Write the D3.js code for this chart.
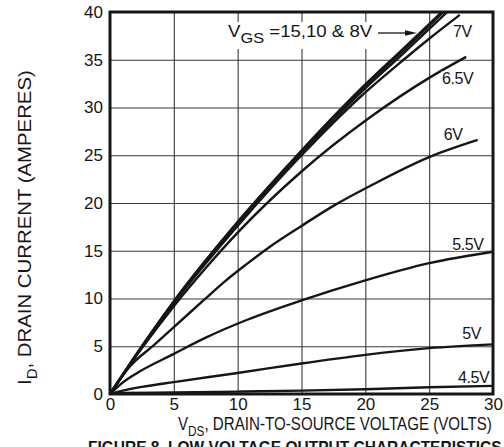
<!DOCTYPE html>
<html><head><meta charset="utf-8">
<script src="https://cdn.jsdelivr.net/npm/d3@7"></script>
<style>
body{margin:0;background:#fff}
svg{display:block;background:#fff}
text{font-family:"Liberation Sans",Arial,Helvetica,sans-serif;fill:#161616}
</style>
</head><body>
<svg id="c" width="504" height="447"></svg>
<script>
// ---- data ----
const xTicks = [0, 5, 10, 15, 20, 25, 30];
const yTicks = [0, 5, 10, 15, 20, 25, 30, 35, 40];

const vds15 = [0, 2.5, 5, 10, 15, 19.6, 23, 26.0];
const id15  = [0, 5.0, 9.7, 18.0, 25.5, 31.9, 36.2, 40];
const vds10 = [0, 2.5, 5, 10, 15, 19.6, 23, 26.1];
const id10  = [0, 5.0, 9.7, 18.0, 25.4, 31.8, 36.0, 40];
const vds8  = [0, 2.5, 5, 10, 15, 19.6, 23, 26.4];
const id8   = [0, 4.95, 9.6, 17.9, 25.3, 31.5, 35.7, 40];
const vds7  = [0, 2.5, 5, 10, 15, 19.6, 23, 25, 27.4];
const id7   = [0, 4.9, 9.5, 17.6, 25.0, 31.1, 35.0, 37.2, 39.7];
const vds65 = [0, 2.5, 5, 7.5, 10, 15, 20.4, 25, 27.9];
const id65  = [0, 4.8, 9.2, 13.2, 16.9, 23.3, 29.0, 33.1, 35.3];
const vds6  = [0, 1.5, 3.5, 5, 7.4, 9, 10.7, 12.5, 15, 17.5, 20.4, 25, 28.8];
const id6   = [0, 2.8, 5.2, 7.0, 9.9, 11.8, 13.6, 15.4, 17.6, 19.7, 21.8, 24.8, 26.6];
const vds55 = [0, 1, 2, 5, 7.5, 10.8, 15, 20, 25, 30];
const id55  = [0, 1.2, 2.1, 4.2, 5.9, 7.8, 9.8, 11.9, 13.7, 14.9];
const vds5  = [0, 1, 2.5, 5, 10, 15, 20, 25, 30];
const id5   = [0, 0.35, 0.75, 1.25, 2.2, 3.2, 4.1, 4.8, 5.2];
const vds45 = [0, 1, 5, 10, 15, 20, 25, 30];
const id45  = [0, 0.1, 0.15, 0.25, 0.35, 0.5, 0.7, 0.85];

const curveLabels = ["7V", "6.5V", "6V", "5.5V", "5V", "4.5V"];
const curveLabelV = [26.86, 26.0, 26.15, 26.8, 27.6, 27.25];
const curveLabelI = [37.4, 32.5, 26.6, 15.1, 5.76, 1.15];

// ---- chart ----
const svg = d3.select("#c");
const x = d3.scaleLinear().domain([0, 30]).range([110, 493]);
const y = d3.scaleLinear().domain([0, 40]).range([394, 12]);

const series = [
  [vds45, id45], [vds5, id5], [vds55, id55], [vds6, id6], [vds65, id65],
  [vds7, id7], [vds8, id8], [vds10, id10], [vds15, id15]
].map(([v, i]) => v.map((d, k) => [d, i[k]]));

// grid
const gx = svg.append("g").attr("transform", `translate(0,${y(0)})`)
  .call(d3.axisBottom(x).tickValues(xTicks.slice(1, -1)).tickSize(-(y(0) - y(40))).tickFormat(""));
const gy = svg.append("g").attr("transform", `translate(${x(0)},0)`)
  .call(d3.axisLeft(y).tickValues(yTicks.slice(1, -1)).tickSize(-(x(30) - x(0))).tickFormat(""));
[gx, gy].forEach(g => {
  g.select(".domain").remove();
  g.selectAll(".tick line").attr("stroke", "#3a3a3a").attr("stroke-width", 1.1);
});

// tick labels
const ax = svg.append("g").attr("transform", `translate(0,${y(0)})`)
  .call(d3.axisBottom(x).tickValues(xTicks).tickSize(0).tickPadding(4).tickFormat(d3.format("d")));
const ay = svg.append("g").attr("transform", `translate(${x(0)},0)`)
  .call(d3.axisLeft(y).tickValues(yTicks).tickSize(0).tickPadding(7).tickFormat(d3.format("d")));
[ax, ay].forEach(g => {
  g.select(".domain").remove();
  g.selectAll("text").attr("font-size", 17).attr("font-family", "Liberation Sans, Arial, sans-serif").attr("fill", "#161616");
});
ax.selectAll("text").attr("dy", "0.72em");

// helper to fit text width
function fitText(g, target) {
  const w = g.select("text").node().getBBox().width;
  return target / w;
}

// VGS label with white background
const vg = svg.append("g");
vg.append("rect").attr("x", 225).attr("y", 22).attr("width", 196).attr("height", 27).attr("fill", "#fff");
const vtG = vg.append("g");
const vt = vtG.append("text").attr("x", 0).attr("y", 0).attr("font-size", 17);
vt.append("tspan").text("V");
vt.append("tspan").attr("dy", 6).attr("font-size", 15).text("GS");
vt.append("tspan").attr("dy", -6).text(" =15,10 & 8V");
const kv = fitText(vtG, 145);
vtG.attr("transform", `translate(228,37) scale(${kv},1)`);
vg.append("line").attr("x1", 378).attr("y1", 33).attr("x2", 407).attr("y2", 33)
  .attr("stroke", "#161616").attr("stroke-width", 1.3);
vg.append("path").attr("d", "M405,30.3 L417,33 L405,35.7 Z").attr("fill", "#161616");

// curve labels (white backing hides the grid, not the curves)
const labG = svg.append("g");
curveLabels.forEach((t, k) => {
  const tx = labG.append("text").attr("x", x(curveLabelV[k])).attr("y", y(curveLabelI[k]))
    .attr("font-size", 16).attr("letter-spacing", -0.4).text(t);
  const b = tx.node().getBBox();
  labG.insert("rect", "text").attr("x", b.x - 1).attr("y", b.y + 2).attr("width", b.width + 2)
    .attr("height", b.height - 4).attr("fill", "#fff");
});

// curves
svg.append("clipPath").attr("id", "pc").append("rect")
  .attr("x", x(0)).attr("y", y(40)).attr("width", x(30) - x(0)).attr("height", y(0) - y(40));
const line = d3.line().x(d => x(d[0])).y(d => y(d[1])).curve(d3.curveMonotoneX);
svg.append("g").attr("clip-path", "url(#pc)").selectAll("path").data(series).join("path")
  .attr("d", line).attr("fill", "none").attr("stroke", "#161616").attr("stroke-width", 2.4)
  .attr("stroke-linejoin", "round");

labG.raise();

// frame
svg.append("rect").attr("x", x(0)).attr("y", y(40)).attr("width", x(30) - x(0)).attr("height", y(0) - y(40))
  .attr("fill", "none").attr("stroke", "#161616").attr("stroke-width", 3);

// x title
const xtG = svg.append("g");
const xt = xtG.append("text").attr("x", 0).attr("y", 0).attr("font-size", 18);
xt.append("tspan").text("V");
xt.append("tspan").attr("dy", 6).attr("font-size", 14).text("DS");
xt.append("tspan").attr("dy", -6).text(", DRAIN-TO-SOURCE VOLTAGE (VOLTS)");
const kx = fitText(xtG, 314);
xtG.attr("transform", `translate(178,430) scale(${kx},1)`);

// y title
const ytG = svg.append("g");
const yt = ytG.append("text").attr("x", 0).attr("y", 0).attr("font-size", 19);
yt.append("tspan").text("I");
yt.append("tspan").attr("dy", 6).attr("font-size", 14).text("D");
yt.append("tspan").attr("dy", -6).text(", DRAIN CURRENT (AMPERES)");
const ky = fitText(ytG, 315);
ytG.attr("transform", `translate(31,385) rotate(-90) scale(${ky},1)`);

// caption (cut by the bottom edge, as in the reference)
const cG = svg.append("g");
cG.append("text").attr("x", 0).attr("y", 0).attr("font-size", 16).attr("font-weight", "bold")
  .text("FIGURE 8. LOW VOLTAGE OUTPUT CHARACTERISTICS");
const kc = fitText(cG, 414);
cG.attr("transform", `translate(88,453) scale(${kc},1)`);
</script>
</body></html>
